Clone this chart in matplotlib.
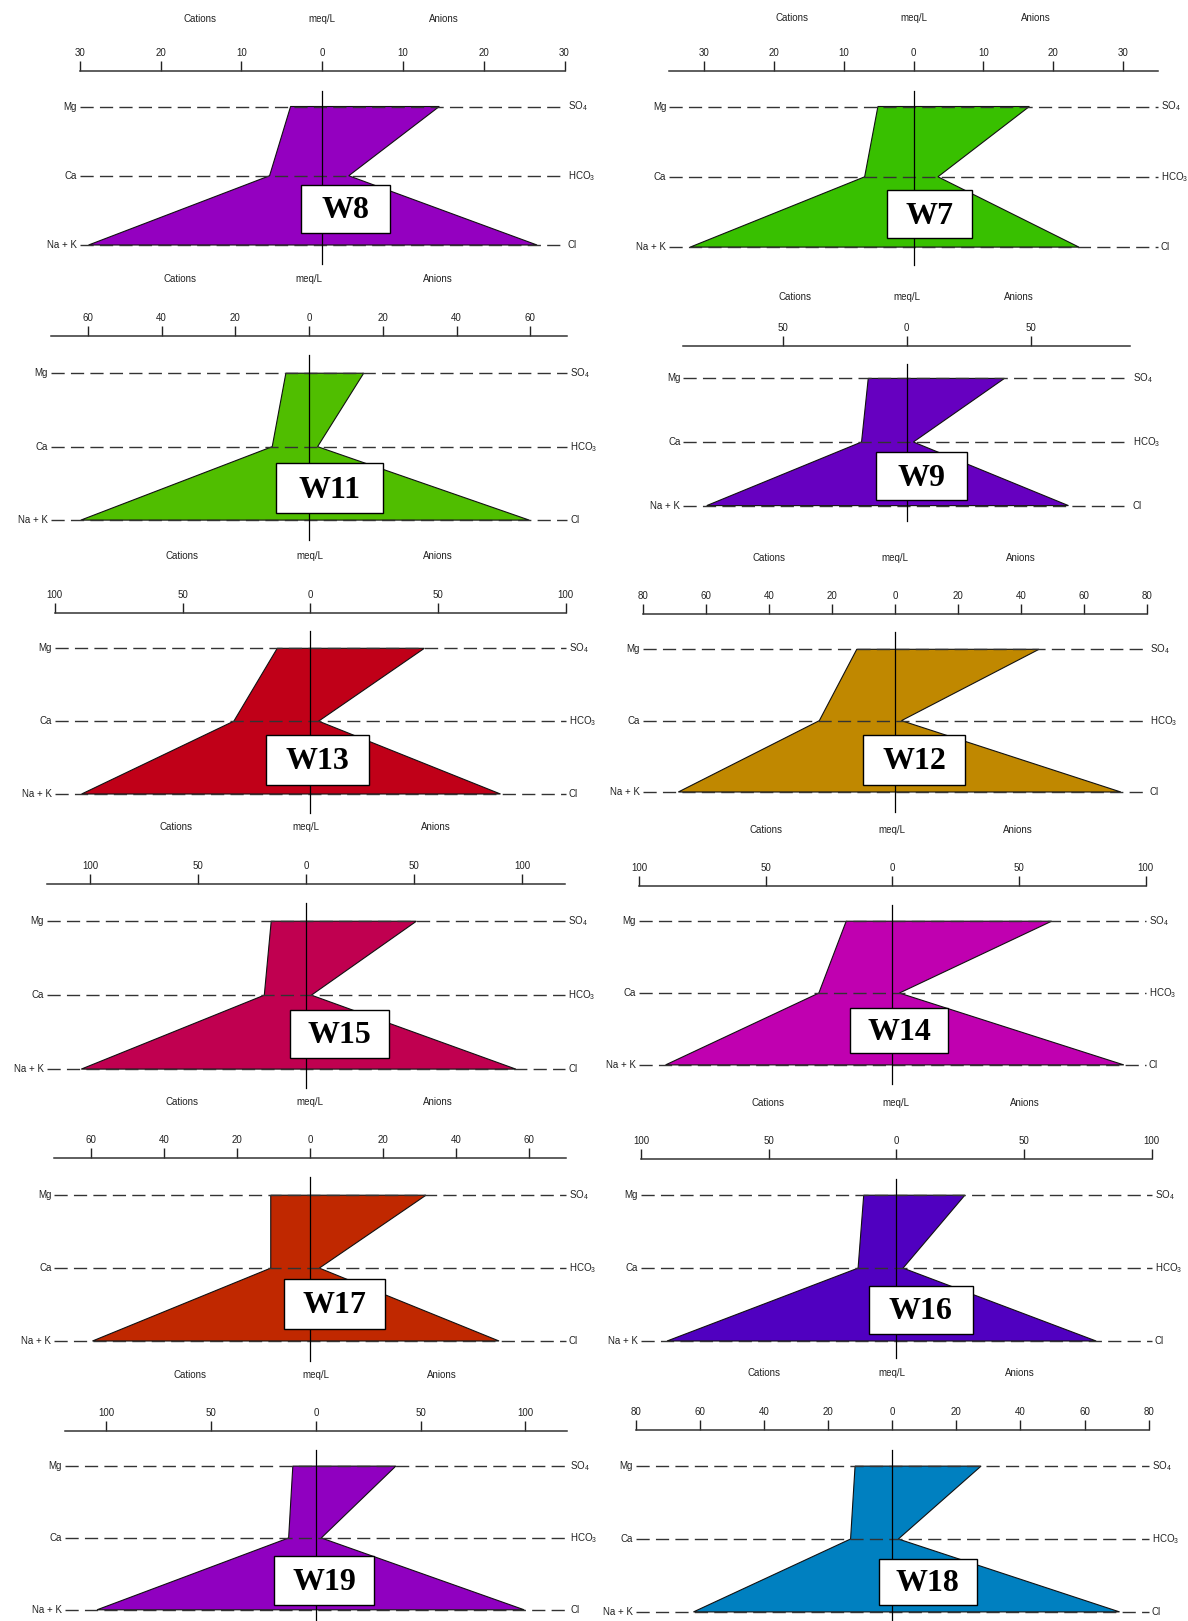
import numpy as np
import matplotlib
matplotlib.use("Agg")
import matplotlib.pyplot as plt
from matplotlib.patches import Polygon, Rectangle
from matplotlib.ticker import FuncFormatter
from matplotlib.transforms import offset_copy

plt.rcParams['font.family'] = ['Liberation Sans', 'DejaVu Sans']
plt.rcParams['mathtext.fontset'] = 'custom'
plt.rcParams['mathtext.rm'] = 'Liberation Sans'
plt.rcParams['mathtext.it'] = 'Liberation Sans:italic'
plt.rcParams['mathtext.bf'] = 'Liberation Sans:bold'
plt.rcParams['lines.scale_dashes'] = False

W, H, DPI = 1188, 1621, 100

# ---- ion concentrations (meq/L) for each well ----
samples = ['W8', 'W7', 'W11', 'W9', 'W13', 'W12', 'W15', 'W14', 'W17', 'W16', 'W19', 'W18']
na_k = [28.9, 32.0, 61.9, 80.6, 89.5, 68.8, 104.0, 89.5, 59.6, 89.8, 104.5, 62.0]
ca = [6.5, 7.0, 10.0, 18.2, 29.9, 24.0, 19.3, 29.0, 10.8, 15.0, 13.0, 13.0]
mg = [3.9, 5.1, 6.3, 15.5, 12.9, 12.1, 16.1, 18.2, 10.8, 12.8, 11.0, 11.6]
cl = [26.6, 23.7, 59.7, 65.2, 74.5, 71.8, 97.1, 91.4, 51.7, 78.2, 99.5, 70.9]
hco3 = [3.3, 3.5, 2.3, 2.7, 3.3, 2.1, 2.5, 2.8, 2.5, 2.6, 2.6, 1.9]
so4 = [14.5, 16.6, 14.8, 39.4, 44.7, 45.8, 51.1, 62.9, 31.7, 26.8, 38.2, 27.7]

colors = ['#9400C0', '#38C000', '#50BE00', '#6600C0', '#C00018', '#C08800',
          '#C00050', '#C000B0', '#C02800', '#5000C0', '#9000C0', '#0080C0']

cation_labels = ['Mg', 'Ca', 'Na + K']
anion_labels = [r'SO$_4$', r'HCO$_3$', 'Cl']
scale_limits = [30, 35, 70, 90, 100, 80, 120, 100, 70, 100, 120, 80]
tick_steps = [10, 10, 20, 50, 50, 20, 50, 50, 20, 50, 50, 20]
tick_max = [30, 30, 60, 50, 100, 80, 100, 100, 60, 100, 100, 80]

# ---- panel geometry on the page (pixels) ----
layout = [
    dict(x0=322.1, ppu=8.08, y_axis=71.3, rows=(106.5, 175.8, 245.0), vline=(91.0, 263.6), head=(18.6, 122), box=(300.9, 185.1, 389.8, 232.6)),
    dict(x0=913.5, ppu=6.978, y_axis=71.3, rows=(106.5, 176.8, 247.1), vline=(91.0, 264.7), head=(17.6, 122), box=(887.1, 190.2, 971.9, 237.8)),
    dict(x0=309.1, ppu=3.6875, y_axis=336.0, rows=(373.2, 447.7, 520.1), vline=(354.6, 539.7), head=(279.2, 129), box=(276.1, 463.2, 382.5, 512.8)),
    dict(x0=906.7, ppu=2.481, y_axis=346.4, rows=(378.4, 441.5, 505.6), vline=(363.9, 521.1), head=(296.7, 112), box=(875.7, 451.8, 966.7, 500.4)),
    dict(x0=310.2, ppu=2.554, y_axis=613.1, rows=(648.3, 721.7, 794.0), vline=(630.7, 812.5), head=(556.2, 128), box=(265.7, 735.1, 369.1, 784.7)),
    dict(x0=894.85, ppu=3.147, y_axis=614.1, rows=(649.3, 720.6, 792.0), vline=(631.7, 811.6), head=(558.3, 126), box=(863.3, 735.1, 964.6, 784.7)),
    dict(x0=306.0, ppu=2.161, y_axis=884.0, rows=(921.2, 995.6, 1069.1), vline=(902.6, 1087.7), head=(827.1, 130), box=(289.5, 1010.1, 388.7, 1057.7)),
    dict(x0=892.3, ppu=2.533, y_axis=886.1, rows=(921.2, 992.5, 1064.9), vline=(904.7, 1083.5), head=(830.2, 126), box=(849.9, 1008.1, 948.1, 1052.5)),
    dict(x0=310.2, ppu=3.653, y_axis=1158.0, rows=(1195.2, 1267.6, 1341.0), vline=(1176.6, 1360.6), head=(1102.1, 128), box=(284.3, 1278.9, 384.6, 1328.6)),
    dict(x0=896.4, ppu=2.554, y_axis=1159.0, rows=(1195.2, 1267.6, 1341.0), vline=(1178.6, 1357.5), head=(1103.2, 128), box=(868.5, 1286.2, 972.9, 1333.7)),
    dict(x0=315.85, ppu=2.094, y_axis=1430.9, rows=(1466.1, 1538.4, 1609.8), vline=(1449.5, 1621.0), head=(1375.1, 126), box=(274.0, 1556.0, 374.3, 1604.6)),
    dict(x0=892.25, ppu=3.206, y_axis=1429.9, rows=(1466.1, 1539.5, 1611.9), vline=(1449.5, 1621.0), head=(1373.0, 128), box=(878.8, 1559.1, 977.0, 1604.6)),
]

SMALL = 7
ROW_Y = [2, 1, 0]          # Mg/SO4, Ca/HCO3, Na+K/Cl

fig = plt.figure(figsize=(W / DPI, H / DPI), dpi=DPI)


def stiff_panel(i):
    g = layout[i]
    lim, ppu, x0 = scale_limits[i], g['ppu'], g['x0']
    top, bot = g['y_axis'], g['vline'][1]
    y_mg, y_ca, y_na = g['rows']
    s = (y_na - y_mg) / 2.0
    left_px = x0 - lim * ppu
    ax = fig.add_axes([left_px / W, 1 - bot / H, 2 * lim * ppu / W, (bot - top) / H])
    ax.set_xlim(-lim, lim)
    ax.set_ylim((y_na - bot) / s, (y_na - top) / s)

    def py(p):
        return (y_na - p) / s

    def px(p):
        return (p - x0) / ppu

    # scale on top
    for side in ['left', 'right', 'bottom']:
        ax.spines[side].set_visible(False)
    ax.spines['top'].set_linewidth(1.1)
    ax.spines['top'].set_color('#333333')
    ax.xaxis.set_ticks_position('top')
    ax.set_xticks(np.arange(-tick_max[i], tick_max[i] + tick_steps[i] / 2, tick_steps[i]))
    ax.xaxis.set_major_formatter(FuncFormatter(lambda v, p: f'{abs(v):g}'))
    ax.tick_params(axis='x', direction='out', length=7, width=1.0, pad=2.5,
                   labelsize=SMALL, colors='#222222', labeltop=True, labelbottom=False)
    ax.set_yticks([])
    ax.patch.set_alpha(0)

    # header
    hy = py(g['head'][0])
    d = g['head'][1] / ppu
    ax.text(-d, hy, 'Cations', ha='center', va='center', fontsize=SMALL, color='#222222')
    ax.text(0, hy, 'meq/L', ha='center', va='center', fontsize=SMALL, color='#222222')
    ax.text(d, hy, 'Anions', ha='center', va='center', fontsize=SMALL, color='#222222')

    # Stiff polygon
    xy = [(-mg[i], 2), (so4[i], 2), (hco3[i], 1), (cl[i], 0), (-na_k[i], 0), (-ca[i], 1)]
    ax.add_patch(Polygon(xy, closed=True, facecolor=colors[i], edgecolor='#111111',
                         linewidth=0.8, zorder=1))

    # ion rows
    tl = offset_copy(ax.transData, fig=fig, x=-3, y=0, units='dots')
    tr = offset_copy(ax.transData, fig=fig, x=3, y=0, units='dots')
    for yv, cl_lab, an_lab in zip(ROW_Y, cation_labels, anion_labels):
        ax.plot([-lim, lim], [yv, yv], color='#333333', linewidth=1.0,
                linestyle=(0, (9.5, 4.5)), zorder=2, clip_on=False)
        ax.text(-lim, yv, cl_lab, transform=tl, ha='right', va='center',
                fontsize=SMALL, color='#222222')
        ax.text(lim, yv, an_lab, transform=tr, ha='left', va='center',
                fontsize=SMALL, color='#222222')

    # centre line
    ax.plot([0, 0], [py(g['vline'][0]), py(g['vline'][1])], color='black',
            linewidth=0.9, zorder=3, clip_on=False)

    # sample label box
    bx1, by1, bx2, by2 = g['box']
    ax.add_patch(Rectangle((px(bx1), py(by2)), px(bx2) - px(bx1), py(by1) - py(by2),
                           facecolor='white', edgecolor='black', linewidth=1.0, zorder=4))
    ax.text((px(bx1) + px(bx2)) / 2, py((by1 + by2) / 2 + 2), samples[i],
            ha='center', va='center', fontsize=23, fontweight='bold',
            family=['Liberation Serif', 'DejaVu Serif'], zorder=5)


for k in range(len(samples)):
    stiff_panel(k)

fig.savefig('out.png', dpi=DPI)
